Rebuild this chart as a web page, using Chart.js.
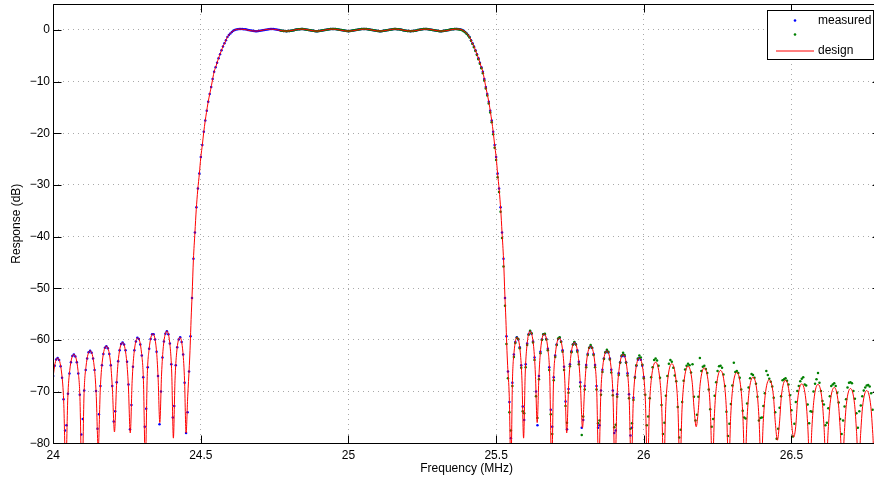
<!DOCTYPE html>
<html>
<head>
<meta charset="utf-8">
<script src="https://cdn.jsdelivr.net/npm/chart.js"></script>
<style>
html,body{margin:0;padding:0;background:#fff;overflow:hidden;width:874px;height:480px;}
#wrap{position:absolute;left:0;top:0;width:884px;height:480px;}
canvas{display:block;}
</style>
</head>
<body>
<div id="wrap"><canvas id="c" width="884" height="480"></canvas></div>
<script>
// ---------------- axis / tick data ----------------
const xTicks = [24, 24.5, 25, 25.5, 26, 26.5];
const yTicks = [-80, -70, -60, -50, -40, -30, -20, -10, 0];
const xRange = [24, 26.8];
const yRange = [-80, 5];
const legendLabels = ['measured', '', 'design'];

// measured sweeps: uniform frequency grid (MHz)
const blueStart = 24.000;
const greenStart = 24.770;
const sweepStep = 0.005;

// ---------------- measured sweep 1 (blue), dB ----------------
const blueLeftStop = [
 -67.0, -65.0, -63.8, -63.5, -63.9, -65.1, -67.3, -71.5, -77.5,
 -76.5, -70.4, -66.5, -64.3, -63.1, -62.8, -63.2, -64.3, -66.5, -70.6, -78.3,
 -75.3, -69.8, -65.8, -63.6, -62.4, -62.1, -62.5, -63.6, -65.8, -69.9, -77.2,
 -74.4, -68.9, -64.9, -62.7, -61.5, -61.2, -61.6, -62.7, -64.9, -68.9, -75.8,
 -73.8, -68.2, -64.1, -62.0, -60.8, -60.5, -60.9, -62.0, -64.2, -68.6, -77.3,
 -72.6, -65.2, -62.0, -60.3, -59.6, -59.8, -60.9, -63.0, -67.2, -76.8,
 -73.3, -65.3, -61.7, -59.8, -58.9, -58.9, -59.9, -62.3, -67.0, -76.3,
 -70.0, -63.4, -60.3, -58.8, -58.3, -58.9, -60.7, -64.7, -75.0,
 -72.8, -64.9, -61.4, -59.9, -59.5, -60.4, -62.8, -68.3, -78.0
];
const blueRiseEdge = [
 -74, -66.1, -59.3, -51.9, -44.3, -39.2, -34.35, -30.7, -27.8, -24.6,
 -22.3, -19.7, -17.55, -15.65, -13.9, -12.4, -11.05, -9.5, -8.1, -7.25,
 -6.35, -5.5, -4.7, -3.95, -3.2, -2.6, -2.0, -1.4, -1.0, -0.7,
 -0.4, -0.2, -0.02, 0.05, 0.10, 0.14
];
const bluePassband = [
 0.15, 0.15, 0.13, 0.10, 0.05, -0.02, -0.08, -0.14, -0.19, -0.23,
 -0.25, -0.25, -0.23, -0.19, -0.14, -0.09, -0.03, 0.03, 0.08, 0.12,
 0.15, 0.15, 0.14, 0.11, 0.07, 0.01, -0.05, -0.11, -0.17, -0.21,
 -0.24, -0.25, -0.24, -0.21, -0.17, -0.12, -0.06, 0.00, 0.05, 0.10,
 0.13, 0.15, 0.15, 0.12, 0.09, 0.04, -0.02, -0.08, -0.14, -0.19,
 -0.22, -0.25, -0.25, -0.23, -0.20, -0.15, -0.10, -0.04, 0.02, 0.07,
 0.11, 0.14, 0.15, 0.15, 0.14, 0.11, 0.07, 0.02, -0.04, -0.10,
 -0.15, -0.20, -0.23, -0.25,
 -0.23, -0.20, -0.15, -0.10, -0.04, 0.02, 0.07, 0.11, 0.14, 0.15,
 0.15, 0.14, 0.11, 0.07, 0.02, -0.04, -0.10, -0.15, -0.20, -0.23,
 -0.25, -0.25, -0.22, -0.19, -0.14, -0.08, -0.02, 0.04, 0.09, 0.12,
 0.15, 0.15, 0.13, 0.10, 0.05, 0.00, -0.06, -0.12, -0.17, -0.21,
 -0.24, -0.25, -0.24, -0.21, -0.17, -0.11, -0.05, 0.01, 0.07, 0.11,
 0.14, 0.15, 0.15, 0.12, 0.08, 0.03, -0.03, -0.09, -0.14, -0.19,
 -0.23, -0.25, -0.25, -0.23, -0.19, -0.14, -0.08, -0.02, 0.05, 0.10,
 0.13, 0.15, 0.15
];
const blueFallEdge = [
 0.14, 0.10, 0.05, -0.02, -0.2, -0.4, -0.7, -1.0, -1.4, -2.0,
 -2.6, -3.2, -3.95, -4.7, -5.5, -6.35, -7.25, -8.1, -9.5, -11.05,
 -12.4, -13.9, -15.65, -17.55, -19.7, -22.3, -24.6, -27.8, -30.7, -34.35,
 -39.2, -44.3, -51.9, -59.3, -66.1, -72
];
const blueRightStop = [
 -79,
 -68.3, -62.8, -60.4, -59.5, -59.9, -61.4, -64.9, -72.9,
 -75.5, -64.7, -60.7, -58.9, -58.3, -58.8, -60.3, -63.4, -70.0,
 -76.5, -67.0, -62.3, -59.9, -58.9, -58.9, -59.8, -61.7, -65.3, -73.5,
 -76.8, -67.2, -63.0, -60.9, -59.8, -59.6, -60.3, -62.0, -65.2, -71.9,
 -77.3, -69.5, -64.7, -62.2, -60.9, -60.5, -60.85, -62.0, -64.2, -68.2, -77,
 -75.5, -68.9, -64.85, -62.7, -61.55, -61.2, -61.55, -62.7, -64.85, -68.9, -77,
 -76.5, -69.8, -65.75, -63.6, -62.45, -62.1, -62.45, -63.6, -65.75, -69.8, -78,
 -77.5, -70.5, -66.45, -64.3, -63.15, -62.8, -63.15, -64.3, -66.45, -70.5, -78.5,
 -77, -71.2, -67.15, -65.0, -63.85, -63.5, -63.85, -65.0, -67.15
];

// ---------------- measured sweep 2 (green), dB ----------------
const greenPassband = [
 -0.11, -0.17, -0.21, -0.24, -0.25, -0.24, -0.21, -0.17, -0.12, -0.06,
 0.00, 0.05, 0.10, 0.13, 0.15, 0.15, 0.12, 0.09, 0.04, -0.02,
 -0.08, -0.14, -0.19, -0.22, -0.25, -0.25, -0.23, -0.20, -0.15, -0.10,
 -0.04, 0.02, 0.07, 0.11, 0.14, 0.15, 0.15, 0.14, 0.11, 0.07,
 0.02, -0.04, -0.10, -0.15, -0.20, -0.23, -0.25,
 -0.23, -0.20, -0.15, -0.10, -0.04, 0.02, 0.07, 0.11, 0.14, 0.15,
 0.15, 0.14, 0.11, 0.07, 0.02, -0.04, -0.10, -0.15, -0.20, -0.23,
 -0.25, -0.25, -0.22, -0.19, -0.14, -0.08, -0.02, 0.04, 0.09, 0.12,
 0.15, 0.15, 0.13, 0.10, 0.05, 0.00, -0.06, -0.12, -0.17, -0.21,
 -0.24, -0.25, -0.24, -0.21, -0.17, -0.11, -0.05, 0.01, 0.07, 0.11,
 0.14, 0.15, 0.15, 0.12, 0.08, 0.03, -0.03, -0.09, -0.14, -0.19,
 -0.23, -0.25, -0.25, -0.23, -0.19, -0.14, -0.08, -0.02, 0.05, 0.10,
 0.13, 0.15, 0.15
];
const greenFallEdge = [
 0.13, 0.09, 0.03, -0.06, -0.25, -0.47, -0.76, -1.08, -1.5, -2.12,
 -2.72, -3.35, -4.1, -4.85, -5.7, -6.55, -7.45, -8.4, -9.8, -11.35,
 -12.7, -14.25, -16.0, -17.9, -20.2, -22.8, -25.2, -28.5, -31.4, -35.2,
 -40.3, -45.8, -53.4, -60.8, -67.4, -74
];
const greenRightStop = [
 -77.5,
 -68.9, -63.3, -60.6, -59.6, -59.8, -61.6, -65.4, -73.8,
 -74.2, -65.3, -61.0, -59.0, -58.2, -58.7, -60.5, -63.9, -70.9,
 -75.1, -67.6, -62.6, -60.0, -58.9, -58.8, -59.9, -62.0, -65.8, -74.4,
 -78.2, -67.8, -63.3, -61.0, -59.7, -59.5, -60.4, -62.3, -65.8, -72.8,
 -76.0, -70.2, -65.1, -62.4, -60.9, -60.4, -60.9, -62.3, -64.7, -69.0, -78.4,
 -74.8, -69.6, -65.3, -62.9, -61.5, -61.0, -61.5, -62.9, -65.3, -69.6, -76.1,
 -75.6, -70.6, -66.2, -63.7, -62.4, -61.9, -62.3, -63.8, -66.3, -70.7, -76.9,
 -76.4, -71.0, -66.8, -64.4, -63.0, -62.5, -62.9, -64.4, -66.9, -71.3, -77.2,
 -76.1, -71.6, -67.3, -64.9, -63.6, -63.0, -63.4, -64.8, -67.4,
 -70.6, -76.5,
 -74.8, -71.3, -67.2, -65.3, -63.9, -63.6, -64.0, -65.0, -67.3, -72.6, -78.2,
 -76.0, -70.8, -67.0, -64.6, -63.9, -64.2, -65.4, -66.9, -68.0, -73.0, -78.9,
 -77.4, -72.0, -67.9, -65.7, -65.0, -64.6, -64.9, -66.3, -64.7, -71.0, -75.6,
 -74.5, -71.0, -63.5, -66.0, -65.2, -65.0, -65.6, -66.4, -69.6, -73.4, -76.8,
 -75.3, -70.8, -68.2, -66.0, -65.1, -65.0, -65.4, -66.7, -68.9, -73.9, -78.6,
 -76.2, -72.4, -68.8, -64.4, -66.2, -66.0, -66.4, -67.3, -69.6, -73.7, -75.0,
 -75.2, -72.3, -69.2, -67.4, -66.6, -66.8, -67.3, -68.5, -71.0, -75.6, -75.1,
 -75.0, -72.8, -70.3, -66.0, -66.8, -67.5, -68.1, -69.0, -71.2, -74.0, -79.1,
 -77.2, -73.1, -70.9, -67.8, -67.6, -67.4, -67.9, -68.6, -70.7, -73.6, -78.7,
 -76.2, -72.0, -69.9, -68.9, -68.0, -67.5, -67.2, -68.6, -68.8, -72.5, -76.1,
 -73.8, -73.9, -70.0, -68.5, -67.6, -66.4, -68.3, -69.9, -71.8, -72.5, -76.5,
 -76.0, -73.2, -70.9, -68.9, -68.6, -68.4, -68.9, -70.2, -72.1, -75.3, -78.2,
 -75.6, -72.9, -71.5, -69.2, -68.3, -68.2, -68.4, -69.9, -71.4, -74.2, -77.0,
 -73.8, -72.7, -70.9, -69.8, -69.2, -68.8, -68.7, -69.0, -70.3, -73.5
];

// ---------------- design response (red line) ----------------
const designLeftFreq = [
 23.9875,
 23.9945, 24.001, 24.015, 24.029, 24.0355, 24.0425,
 24.0495, 24.056, 24.070, 24.084, 24.0905, 24.0975,
 24.1045, 24.111, 24.125, 24.139, 24.1455, 24.1525,
 24.1595, 24.166, 24.180, 24.194, 24.2005, 24.2075,
 24.2145, 24.221, 24.235, 24.248, 24.2545, 24.261,
 24.2674, 24.2737, 24.2865, 24.2993, 24.3056, 24.312,
 24.3184, 24.3248, 24.3375, 24.3493, 24.3551, 24.361,
 24.367, 24.373, 24.385, 24.396, 24.4015, 24.407,
 24.4125, 24.418, 24.429, 24.4395, 24.4448, 24.450
];
const designLeftDb = [
 -85,
 -71.8, -66.6, -63.5, -66.6, -71.8, -85,
 -71.1, -65.9, -62.8, -65.9, -71.1, -88,
 -70.4, -65.2, -62.1, -65.2, -70.4, -81,
 -69.5, -64.3, -61.2, -64.3, -69.5, -77.8,
 -68.8, -63.6, -60.5, -63.6, -68.8, -78,
 -67.9, -62.6, -59.6, -62.6, -67.9, -84,
 -67.1, -61.8, -58.8, -61.8, -67.1, -76,
 -66.6, -61.3, -58.3, -61.3, -66.6, -79,
 -67.8, -62.5, -59.5, -62.5, -67.8, -78
];
const designMainFreq = [
 24.4555, 24.461, 24.464, 24.467, 24.4704, 24.4748, 24.480, 24.4844, 24.4895, 24.4952,
 24.4997, 24.5054, 24.5098, 24.5146, 24.519, 24.5247, 24.5301, 24.5359, 24.5404, 24.5455,
 24.5515, 24.557, 24.563, 24.569, 24.575, 24.582, 24.589, 24.596, 24.605, 24.616,
 24.633, 24.685, 24.737, 24.789, 24.841, 24.893, 24.945, 25.000,
 25.055, 25.107, 25.159, 25.211, 25.263, 25.315, 25.367,
 25.384, 25.395, 25.404, 25.411, 25.418, 25.425, 25.431, 25.437, 25.443, 25.4485,
 25.4545, 25.4596, 25.4641, 25.4699, 25.4753, 25.481, 25.4854, 25.4902, 25.4946, 25.5003,
 25.5048, 25.5105, 25.5156, 25.520, 25.5252, 25.5296, 25.533, 25.536, 25.539, 25.5445
];
const designMainDb = [
 -71, -65, -61, -56, -51.3, -44.5, -39.2, -34.8, -31.0, -27.7,
 -24.75, -22.1, -19.8, -17.7, -16.0, -14.0, -12.4, -10.8, -9.4, -8.0,
 -7.0, -6.0, -5.0, -4.1, -3.2, -2.4, -1.5, -0.9, -0.4, 0.0,
 0.15, -0.25, 0.15, -0.25, 0.15, -0.25, 0.15, -0.25,
 0.15, -0.25, 0.15, -0.25, 0.15, -0.25, 0.15,
 0.0, -0.4, -0.9, -1.5, -2.4, -3.2, -4.1, -5.0, -6.0, -7.0,
 -8.0, -9.4, -10.8, -12.4, -14.0, -16.0, -17.7, -19.8, -22.1, -24.75,
 -27.7, -31.0, -34.8, -39.2, -44.5, -51.3, -56, -61, -65, -71
];
const designRightFreq = [
 25.550,
 25.5553, 25.5605, 25.571, 25.582, 25.5875, 25.593,
 25.5985, 25.604, 25.615, 25.627, 25.633, 25.639,
 25.6449, 25.6508, 25.6625, 25.6753, 25.6816, 25.688,
 25.6944, 25.7008, 25.7135, 25.7263, 25.7326, 25.739,
 25.7455, 25.752, 25.765, 25.779, 25.7855, 25.7925,
 25.7995, 25.806, 25.820, 25.834, 25.8405, 25.8475,
 25.8545, 25.861, 25.875, 25.889, 25.8955, 25.9025,
 25.9095, 25.916, 25.930, 25.944, 25.9505, 25.9575,
 25.9645, 25.971, 25.985, 25.999, 26.0055, 26.0125,
 26.0195, 26.026, 26.040, 26.054, 26.0605, 26.0675,
 26.0745, 26.081, 26.095, 26.109, 26.1155, 26.1225,
 26.1295, 26.136, 26.150, 26.164, 26.1705, 26.1775,
 26.1845, 26.191, 26.205, 26.219, 26.2255, 26.2325,
 26.2395, 26.246, 26.260, 26.274, 26.2805, 26.2875,
 26.2945, 26.301, 26.315, 26.329, 26.3355, 26.3425,
 26.3495, 26.356, 26.370, 26.384, 26.3905, 26.3975,
 26.4045, 26.411, 26.425, 26.439, 26.4455, 26.4525,
 26.4595, 26.466, 26.480, 26.494, 26.5005, 26.5075,
 26.5145, 26.521, 26.535, 26.549, 26.5555, 26.5625,
 26.5695, 26.576, 26.590, 26.604, 26.6105, 26.6175,
 26.6245, 26.631, 26.645, 26.659, 26.6655, 26.6725,
 26.6795, 26.686, 26.700, 26.714, 26.7205, 26.7275,
 26.7345, 26.741, 26.755, 26.769, 26.7755, 26.7825,
 26.7895, 26.796, 26.810
];
const designRightDb = [
 -85,
 -67.8, -62.5, -59.5, -62.5, -67.8, -79,
 -66.6, -61.3, -58.3, -61.3, -66.6, -76,
 -67.1, -61.8, -58.8, -61.8, -67.1, -85,
 -67.9, -62.6, -59.6, -62.6, -67.9, -78,
 -68.8, -63.6, -60.5, -63.6, -68.8, -77,
 -69.5, -64.3, -61.2, -64.3, -69.5, -85,
 -70.4, -65.2, -62.1, -65.2, -70.4, -85,
 -71.1, -65.9, -62.8, -65.9, -71.1, -85,
 -71.8, -66.6, -63.5, -66.6, -71.8, -85,
 -72.6, -67.4, -64.3, -67.4, -72.6, -85,
 -72.9, -67.7, -64.6, -67.7, -72.9, -85,
 -73.4, -68.2, -65.1, -68.2, -73.4, -76.8,
 -73.7, -68.5, -65.4, -68.5, -73.7, -85,
 -74.2, -69.0, -65.9, -69.0, -74.2, -85,
 -74.6, -69.4, -66.3, -69.4, -74.6, -85,
 -75.5, -70.3, -67.2, -70.3, -75.5, -85,
 -76.0, -70.8, -67.7, -70.8, -76.0, -79.4,
 -76.1, -70.9, -67.8, -70.9, -76.1, -78.8,
 -76.8, -71.6, -68.5, -71.6, -76.8, -85,
 -76.9, -71.7, -68.6, -71.7, -76.9, -85,
 -77.5, -72.3, -69.2, -72.3, -77.5, -85,
 -77.7, -72.5, -69.4, -72.5, -77.7, -85,
 -78.1, -72.9, -69.8, -72.9, -78.1, -85,
 -78.5, -73.3, -70.2
];

// ---------------- build datasets ----------------
const blueDb = [].concat(blueLeftStop, blueRiseEdge, bluePassband, blueFallEdge, blueRightStop);
const greenDb = [].concat(greenPassband, greenFallEdge, greenRightStop);
const designFreq = [].concat(designLeftFreq, designMainFreq, designRightFreq);
const designDb = [].concat(designLeftDb, designMainDb, designRightDb);

const sweep = (start, vals) => vals.map((v, i) => ({x: +(start + i * sweepStep).toFixed(4), y: v}));
const bluePts = sweep(blueStart, blueDb);
const greenPts = sweep(greenStart, greenDb);
const designPts = designFreq.map((f, i) => ({x: f, y: designDb[i]}));

const FONT = "'Liberation Sans', Arial, Helvetica, sans-serif";
Chart.defaults.font.family = FONT;
Chart.defaults.font.size = 12;
Chart.defaults.color = '#000';

const minus = v => (v < 0 ? '\u2212' + Math.abs(v) : String(v));

// frame with inward ticks (MATLAB-style box)
const framePlugin = {
  id: 'frame',
  afterDatasetsDraw(chart) {
    const {ctx, chartArea, scales} = chart;
    const L = Math.round(chartArea.left) + 0.5, R = Math.round(chartArea.right) + 0.5;
    const T = Math.round(chartArea.top) + 0.5, B = Math.round(chartArea.bottom) + 0.5;
    const tl = 8;
    ctx.save();
    ctx.strokeStyle = '#000';
    ctx.lineWidth = 1;
    ctx.beginPath();
    ctx.rect(L, T, R - L, B - T);
    xTicks.forEach(v => {
      const p = Math.round(scales.x.getPixelForValue(v)) + 0.5;
      ctx.moveTo(p, B); ctx.lineTo(p, B - tl);
      ctx.moveTo(p, T); ctx.lineTo(p, T + tl);
    });
    yTicks.forEach(v => {
      const p = Math.round(scales.y.getPixelForValue(v)) + 0.5;
      ctx.moveTo(L, p); ctx.lineTo(L + tl, p);
      ctx.moveTo(R, p); ctx.lineTo(R - tl, p);
    });
    ctx.stroke();
    ctx.restore();
  }
};

// legend box inside the axes, top-right
const legendPlugin = {
  id: 'boxLegend',
  afterDraw(chart) {
    const {ctx, chartArea} = chart;
    const bx = Math.round(chartArea.right - 113.3) + 0.5;
    const by = Math.round(chartArea.top + 6) + 0.5;
    const bw = 106, bh = 49;
    ctx.save();
    ctx.fillStyle = '#fff';
    ctx.fillRect(bx, by, bw, bh);
    ctx.strokeStyle = '#000';
    ctx.lineWidth = 1;
    ctx.strokeRect(bx, by, bw, bh);
    const ds = chart.data.datasets;
    ctx.fillStyle = ds[2].backgroundColor;
    ctx.beginPath(); ctx.arc(bx + 27.5, by + 10, 1.3, 0, Math.PI * 2); ctx.fill();
    ctx.fillStyle = ds[1].backgroundColor;
    ctx.beginPath(); ctx.arc(bx + 27.5, by + 24, 1.3, 0, Math.PI * 2); ctx.fill();
    ctx.strokeStyle = ds[0].borderColor;
    ctx.beginPath(); ctx.moveTo(bx + 8.5, by + 40.5); ctx.lineTo(bx + 46.5, by + 40.5); ctx.stroke();
    ctx.fillStyle = '#000';
    ctx.font = '12px ' + FONT;
    ctx.textAlign = 'left';
    ctx.textBaseline = 'middle';
    ctx.fillText(legendLabels[0], bx + 50.5, by + 10.5);
    if (legendLabels[1]) ctx.fillText(legendLabels[1], bx + 50.5, by + 24.5);
    ctx.fillText(legendLabels[2], bx + 50.5, by + 40.5);
    ctx.restore();
  }
};

const gridOpts = {color: '#a9a9a9', lineWidth: 1, drawTicks: false};

new Chart(document.getElementById('c'), {
  type: 'scatter',
  data: {
    datasets: [
      {
        type: 'line', label: legendLabels[2], data: designPts,
        borderColor: '#ff0000', borderWidth: 1, pointRadius: 0, fill: false,
        cubicInterpolationMode: 'monotone', order: 0
      },
      {
        label: legendLabels[1], data: greenPts, backgroundColor: '#008000',
        pointRadius: 1.25, pointBorderWidth: 0, pointStyle: 'circle', order: 1
      },
      {
        label: legendLabels[0], data: bluePts, backgroundColor: '#0000ff',
        pointRadius: 1.25, pointBorderWidth: 0, pointStyle: 'circle', order: 2
      }
    ]
  },
  options: {
    responsive: false,
    animation: false,
    events: [],
    layout: {padding: {left: 0, right: 3.4, top: 3.3, bottom: 0}},
    plugins: {legend: {display: false}, tooltip: {enabled: false}},
    scales: {
      x: {
        type: 'linear', min: xRange[0], max: xRange[1],
        afterBuildTicks: s => { s.ticks = xTicks.map(v => ({value: v})); },
        afterFit: s => { s.height = 36.7; s.paddingLeft = 0; s.paddingRight = 0; },
        ticks: {autoSkip: false, maxRotation: 0, padding: 5, callback: v => String(v)},
        grid: gridOpts,
        border: {display: false, dash: [1, 4]},
        title: {display: true, text: 'Frequency (MHz)', padding: {top: 0, bottom: 4}}
      },
      y: {
        type: 'linear', min: yRange[0], max: yRange[1],
        afterBuildTicks: s => { s.ticks = yTicks.map(v => ({value: v})); },
        afterFit: s => { s.width = 53.2; s.paddingTop = 0; s.paddingBottom = 0; },
        ticks: {padding: 3.2, callback: v => minus(v)},
        grid: gridOpts,
        border: {display: false, dash: [1, 4]},
        title: {display: true, text: 'Response (dB)', padding: {top: 9.3, bottom: 0}}
      }
    }
  },
  plugins: [framePlugin, legendPlugin]
});
</script>
</body>
</html>
